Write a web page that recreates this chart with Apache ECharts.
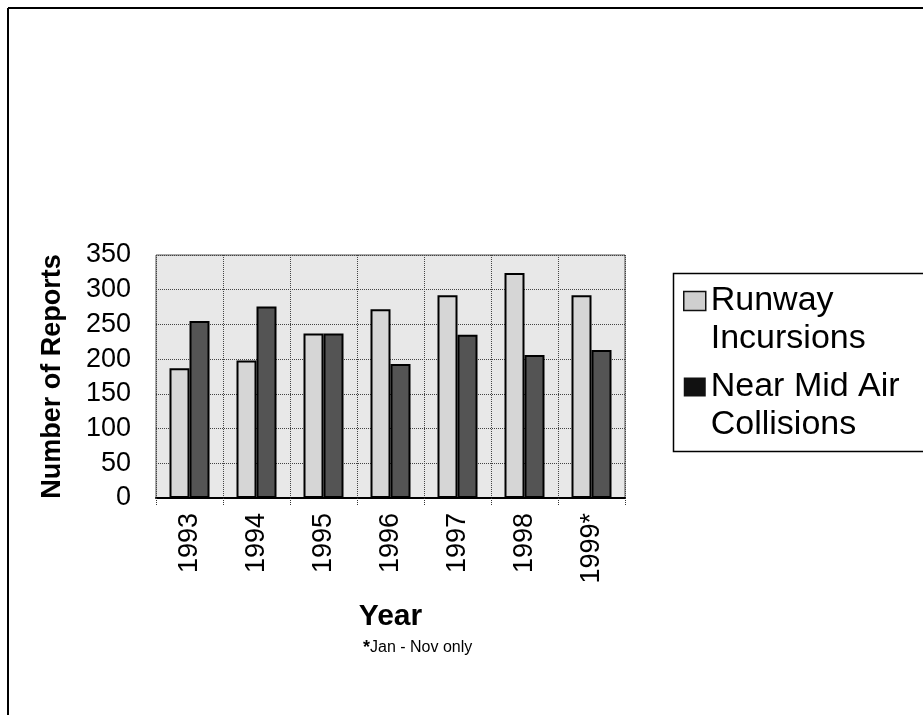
<!DOCTYPE html>
<html>
<head>
<meta charset="utf-8">
<script src="https://cdn.jsdelivr.net/npm/echarts@6/dist/echarts.min.js"></script>
<style>
html,body{margin:0;padding:0;background:#fff;}
#chart{width:923px;height:715px;}
</style>
</head>
<body>
<div id="chart"></div>
<script>
const years = ['1993', '1994', '1995', '1996', '1997', '1998', '1999*'];
const runwayIncursions = [187, 198, 237, 272, 292, 324, 292];
const nearMidAirCollisions = [255, 276, 237, 193, 235, 206, 213];
const yTicks = { min: 0, max: 350, interval: 50 };

const chart = echarts.init(document.getElementById('chart'));
const font = 'Liberation Sans, Arial, sans-serif';
chart.setOption({
  animation: false,
  backgroundColor: '#ffffff',
  textStyle: { fontFamily: font, color: '#000' },
  grid: {
    left: 156, right: 298, top: 255, bottom: 217,
    show: true, backgroundColor: '#e8e8e8',
    borderColor: '#555', borderWidth: 1
  },
  title: {
    text: '{b|*}Jan - Nov only',
    left: 358, top: 634,
    textStyle: {
      fontFamily: font, fontSize: 16, fontWeight: 'normal', color: '#000',
      rich: { b: { fontFamily: font, fontSize: 18, fontWeight: 'bold', color: '#000' } }
    }
  },
  legend: {
    orient: 'vertical',
    left: 683, top: 244,
    itemWidth: 22, itemHeight: 19,
    itemGap: -28,
    padding: 0,
    icon: 'rect',
    selectedMode: false,
    formatter: function (n) { return n === 'Runway Incursions' ? '\nRunway\nIncursions' : '\nNear Mid Air\nCollisions'; },
    textStyle: { fontFamily: font, fontSize: 34, lineHeight: 38, color: '#000' },
    data: [
      { name: 'Runway Incursions', itemStyle: { color: '#cfcfcf', borderColor: '#111', borderWidth: 1.5 } },
      { name: 'Near Mid Air Collisions', itemStyle: { color: '#111', borderColor: '#111', borderWidth: 0 } }
    ]
  },
  graphic: [
    { type: 'line', shape: { x1: 8, y1: 8, x2: 923, y2: 8 }, style: { stroke: '#000', lineWidth: 2 } },
    { type: 'line', shape: { x1: 8, y1: 8, x2: 8, y2: 715 }, style: { stroke: '#000', lineWidth: 2 } },
    { type: 'rect', shape: { x: 673.5, y: 273.5, width: 300, height: 178 }, style: { fill: 'none', stroke: '#000', lineWidth: 1.5 } }
  ],
  xAxis: {
    type: 'category',
    data: years,
    name: 'Year',
    nameLocation: 'middle',
    nameGap: 104,
    nameTextStyle: { fontFamily: font, fontSize: 30, fontWeight: 'bold', color: '#000' },
    axisLine: { show: true, lineStyle: { color: '#000', width: 2 } },
    axisTick: { show: true, length: 8, lineStyle: { color: '#333', type: 'dotted' } },
    axisLabel: { rotate: 90, fontSize: 27, color: '#000', margin: 15, fontFamily: font },
    splitLine: { show: true, lineStyle: { color: '#444', type: 'dotted', width: 1 } }
  },
  yAxis: {
    type: 'value',
    min: yTicks.min, max: yTicks.max, interval: yTicks.interval,
    name: 'Number of Reports',
    nameLocation: 'middle',
    nameGap: 90,
    nameTextStyle: { fontFamily: font, fontSize: 27, fontWeight: 'bold', color: '#000' },
    axisLine: { show: false },
    axisTick: { show: false },
    axisLabel: { fontSize: 27, color: '#000', margin: 25, fontFamily: font },
    splitLine: { show: true, lineStyle: { color: '#444', type: 'dotted', width: 1 } }
  },
  series: [
    {
      name: 'Runway Incursions', type: 'bar', data: runwayIncursions,
      barWidth: 20, barGap: '0%',
      itemStyle: { color: '#d6d6d6', borderColor: '#000', borderWidth: 2 }
    },
    {
      name: 'Near Mid Air Collisions', type: 'bar', data: nearMidAirCollisions,
      barWidth: 20, barGap: '0%',
      itemStyle: { color: '#545454', borderColor: '#000', borderWidth: 2 }
    }
  ]
});
</script>
</body>
</html>
